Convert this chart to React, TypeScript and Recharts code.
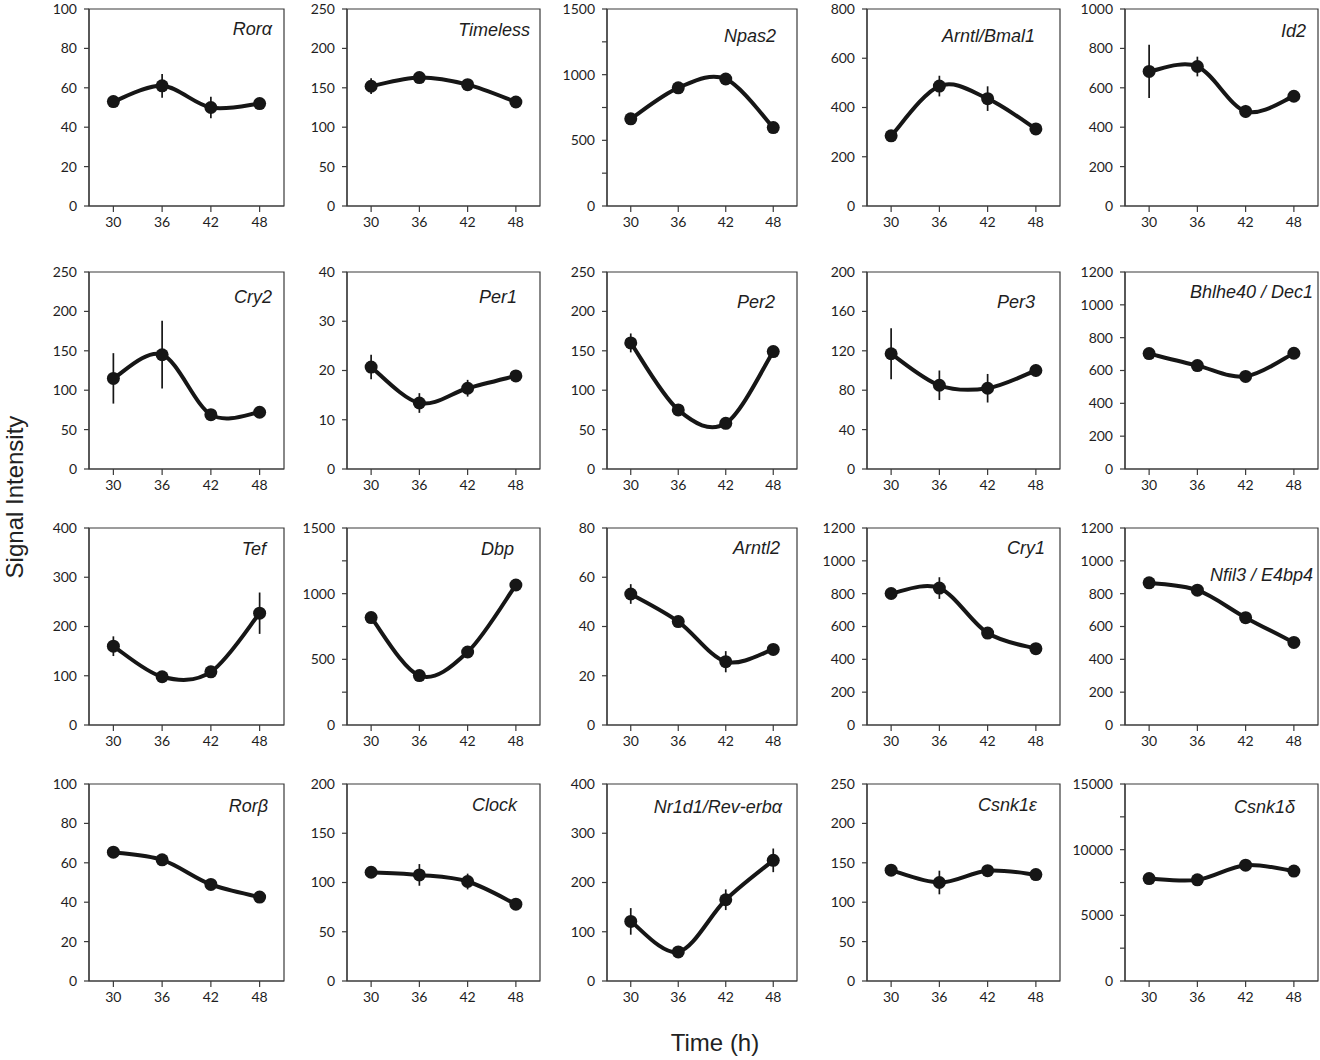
import React from 'react';
import { LineChart, Line, XAxis, YAxis, ErrorBar, ReferenceArea } from 'recharts';

// ---------- DATA ----------
const timePoints = [30, 36, 42, 48];
const xTickLabels = [30, 36, 42, 48];

const geneNames = [
  'Rorα', 'Timeless', 'Npas2', 'Arntl/Bmal1', 'Id2',
  'Cry2', 'Per1', 'Per2', 'Per3', 'Bhlhe40 / Dec1',
  'Tef', 'Dbp', 'Arntl2', 'Cry1', 'Nfil3 / E4bp4',
  'Rorβ', 'Clock', 'Nr1d1/Rev-erbα', 'Csnk1ε', 'Csnk1δ',
];

const meanRora = [53, 61, 50, 52];
const errRora = [3, 6, 5.5, 1.5];
const meanTimeless = [152, 163, 154, 132];
const errTimeless = [10, 7, 4, 3];
const meanNpas2 = [664, 900, 967, 597];
const errNpas2 = [20, 25, 30, 20];
const meanArntl = [285, 487, 436, 313];
const errArntl = [10, 42, 50, 10];
const meanId2 = [683, 708, 480, 557];
const errId2 = [135, 50, 33, 10];

const meanCry2 = [115, 145, 69, 72];
const errCry2 = [32, 43, 6, 7];
const meanPer1 = [20.7, 13.4, 16.4, 18.9];
const errPer1 = [2.5, 2, 1.7, 1];
const meanPer2 = [160, 75, 58, 149];
const errPer2 = [12, 5, 4, 4];
const meanPer3 = [117, 85, 82, 100];
const errPer3 = [26, 15, 14.5, 6];
const meanBhlhe40 = [703, 630, 564, 705];
const errBhlhe40 = [15, 15, 15, 15];

const meanTef = [160, 98, 108, 227];
const errTef = [20, 5, 6, 42];
const meanDbp = [818, 376, 556, 1066];
const errDbp = [15, 15, 25, 15];
const meanArntl2 = [53.2, 42, 25.7, 30.7];
const errArntl2 = [4, 1.5, 4.3, 1.5];
const meanCry1 = [801, 834, 560, 465];
const errCry1 = [15, 66, 20, 15];
const meanNfil3 = [866, 821, 654, 503];
const errNfil3 = [20, 15, 20, 15];

const meanRorb = [65.4, 61.5, 49, 42.6];
const errRorb = [1.5, 3, 1.5, 1.5];
const meanClock = [110.4, 107.7, 101, 78];
const errClock = [3, 11, 8, 3];
const meanNr1d1 = [121, 59, 165, 245];
const errNr1d1 = [27, 6, 21, 24];
const meanCsnk1e = [140.6, 125, 140, 135];
const errCsnk1e = [5, 15, 5, 4];
const meanCsnk1d = [7800, 7700, 8820, 8370];
const errCsnk1d = [200, 200, 250, 200];

const geneMeans = [
  meanRora, meanTimeless, meanNpas2, meanArntl, meanId2,
  meanCry2, meanPer1, meanPer2, meanPer3, meanBhlhe40,
  meanTef, meanDbp, meanArntl2, meanCry1, meanNfil3,
  meanRorb, meanClock, meanNr1d1, meanCsnk1e, meanCsnk1d,
];
const geneErrs = [
  errRora, errTimeless, errNpas2, errArntl, errId2,
  errCry2, errPer1, errPer2, errPer3, errBhlhe40,
  errTef, errDbp, errArntl2, errCry1, errNfil3,
  errRorb, errClock, errNr1d1, errCsnk1e, errCsnk1d,
];

// y-axis tick positions and which ones carry a label
const yTicks = [
  [0, 20, 40, 60, 80, 100],
  [0, 50, 100, 150, 200, 250],
  [0, 250, 500, 750, 1000, 1250, 1500],
  [0, 200, 400, 600, 800],
  [0, 200, 400, 600, 800, 1000],
  [0, 50, 100, 150, 200, 250],
  [0, 10, 20, 30, 40],
  [0, 50, 100, 150, 200, 250],
  [0, 40, 80, 120, 160, 200],
  [0, 200, 400, 600, 800, 1000, 1200],
  [0, 100, 200, 300, 400],
  [0, 250, 500, 750, 1000, 1250, 1500],
  [0, 20, 40, 60, 80],
  [0, 200, 400, 600, 800, 1000, 1200],
  [0, 200, 400, 600, 800, 1000, 1200],
  [0, 20, 40, 60, 80, 100],
  [0, 50, 100, 150, 200],
  [0, 100, 200, 300, 400],
  [0, 50, 100, 150, 200, 250],
  [0, 2500, 5000, 7500, 10000, 12500, 15000],
];
const yLabelStep = [20, 50, 500, 200, 200, 50, 10, 50, 40, 200, 100, 500, 20, 200, 200, 20, 50, 100, 50, 5000];

const xAxisTitle = 'Time (h)';
const yAxisTitle = 'Signal Intensity';

// ---------- LAYOUT ----------
const colLeft = [89, 347, 607, 867, 1125];
const colWidth = [195, 193, 190, 193, 193];
const rowTop = [9, 272, 528, 784];
const boxH = 197;
const YW = 60;
const TM = 10;
const RM = 4;
const XH = 32;
// title inset from right edge of box, and title centre below box top
const titleInset = [12, 10, 21, 25, 12, 12, 23, 22, 25, 5, 18, 26, 17, 15, 5, 16, 23, 15, 23, 23];
const titleDown = [20, 21, 27, 27, 22, 25, 25, 30, 30, 20, 21, 21, 20, 20, 47, 22, 21, 23, 21, 23];

const INK = '#161616';
const AXIS = '#3a3a3a';

// Excel-like smoothed line (uniform Catmull-Rom as cubic Bezier)
const smoothCurve: any = (context: any) => {
  let pts: number[][] = [];
  return {
    areaStart() {},
    areaEnd() {},
    lineStart() {
      pts = [];
    },
    lineEnd() {
      const n = pts.length;
      if (!n) return;
      context.moveTo(pts[0][0], pts[0][1]);
      for (let i = 0; i < n - 1; i++) {
        const p0 = pts[Math.max(0, i - 1)];
        const p1 = pts[i];
        const p2 = pts[i + 1];
        const p3 = pts[Math.min(n - 1, i + 2)];
        context.bezierCurveTo(
          p1[0] + (p2[0] - p0[0]) / 6,
          p1[1] + (p2[1] - p0[1]) / 6,
          p2[0] - (p3[0] - p1[0]) / 6,
          p2[1] - (p3[1] - p1[1]) / 6,
          p2[0],
          p2[1],
        );
      }
    },
    point(x: number, y: number) {
      pts.push([+x, +y]);
    },
  };
};

function Panel({ idx }: { idx: number }) {
  const row = Math.floor(idx / 5);
  const col = idx % 5;
  const bw = colWidth[col];
  const left = colLeft[col];
  const top = rowTop[row];
  const ticks = yTicks[idx];
  const yMax = ticks[ticks.length - 1];
  const step = yLabelStep[idx];
  const data = timePoints.map((t, i) => ({ t, m: geneMeans[idx][i], e: geneErrs[idx][i] }));
  const tickStyle = { fontSize: 14, fill: '#1e1e1e', fontFamily: 'Lato, "Open Sans", sans-serif' };
  return (
    <>
      <div style={{ position: 'absolute', left: left - YW, top: top - TM }}>
        <LineChart
          width={YW + bw + RM}
          height={TM + boxH + XH}
          data={data}
          margin={{ top: TM, right: RM, left: 0, bottom: 0 }}
        >
          <XAxis
            type="number"
            dataKey="t"
            domain={[27, 51]}
            ticks={xTickLabels}
            interval={0}
            allowDataOverflow
            height={XH}
            tickSize={6}
            tickMargin={5}
            tick={tickStyle}
            axisLine={{ stroke: AXIS, strokeWidth: 1.2 }}
            tickLine={{ stroke: AXIS, strokeWidth: 1.2 }}
          />
          <YAxis
            type="number"
            domain={[0, yMax]}
            ticks={ticks}
            interval={0}
            allowDataOverflow
            width={YW}
            tickSize={5}
            tickMargin={7}
            tick={tickStyle}
            tickFormatter={(v: number) => (v % step === 0 ? String(v) : '')}
            axisLine={{ stroke: AXIS, strokeWidth: 1.2 }}
            tickLine={{ stroke: AXIS, strokeWidth: 1.2 }}
          />
          <ReferenceArea
            x1={27}
            x2={51}
            y1={0}
            y2={yMax}
            ifOverflow="visible"
            fill="none"
            fillOpacity={0}
            stroke={AXIS}
            strokeWidth={1.2}
          />
          <Line
            dataKey="m"
            type={smoothCurve}
            stroke={INK}
            strokeWidth={4}
            dot={{ r: 6.5, fill: INK, stroke: INK, strokeWidth: 0 }}
            activeDot={false}
            isAnimationActive={false}
          >
            <ErrorBar dataKey="e" width={0} stroke={INK} strokeWidth={1.7} direction="y" />
          </Line>
        </LineChart>
      </div>
      <div
        style={{
          position: 'absolute',
          left: left,
          width: bw - titleInset[idx],
          top: top + titleDown[idx] - 10,
          textAlign: 'right',
          fontFamily: '"Liberation Sans", Arial, sans-serif',
          fontStyle: 'italic',
          fontSize: 18,
          lineHeight: '20px',
          color: '#1e1e1e',
          whiteSpace: 'nowrap',
        }}
      >
        {geneNames[idx]}
      </div>
    </>
  );
}

export default function App() {
  return (
    <div
      style={{
        position: 'absolute',
        left: 0,
        top: 0,
        width: 1320,
        height: 1060,
        background: '#fff',
        overflow: 'hidden',
      }}
    >
      {geneNames.map((_, i) => (
        <Panel key={i} idx={i} />
      ))}
      <div
        style={{
          position: 'absolute',
          left: 15 - 100,
          top: 497 - 15,
          width: 200,
          height: 30,
          lineHeight: '30px',
          textAlign: 'center',
          transform: 'rotate(-90deg)',
          fontFamily: '"Liberation Sans", Arial, sans-serif',
          fontSize: 24,
          color: '#222',
          whiteSpace: 'nowrap',
        }}
      >
        {yAxisTitle}
      </div>
      <div
        style={{
          position: 'absolute',
          left: 715 - 100,
          top: 1043 - 15,
          width: 200,
          height: 30,
          lineHeight: '30px',
          textAlign: 'center',
          fontFamily: '"Liberation Sans", Arial, sans-serif',
          fontSize: 24,
          color: '#222',
          whiteSpace: 'nowrap',
        }}
      >
        {xAxisTitle}
      </div>
    </div>
  );
}
